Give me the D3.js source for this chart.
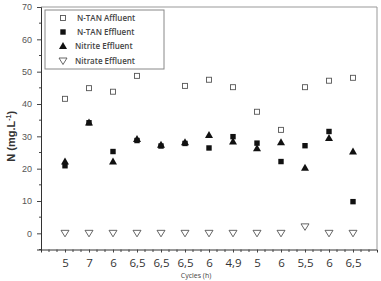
<!DOCTYPE html>
<html><head><meta charset="utf-8">
<script src="https://cdn.jsdelivr.net/npm/d3@7"></script>
<style>body{margin:0;background:#fff}svg{display:block}</style>
</head><body>
<svg id="c" width="381" height="281"></svg>
<script>
const cycles = ["5","7","6","6,5","6,5","6,5","6","4,9","5","6","5,5","6","6,5"];
const ntanAffluent = [41.6,44.9,43.8,48.7,null,45.6,47.5,45.2,37.6,32.0,45.2,47.2,48.1];
const ntanEffluent = [20.9,34.2,25.3,28.7,27.0,27.8,26.4,29.9,27.9,22.2,27.1,31.5,9.8];
const nitriteEffluent = [22.2,34.3,22.2,29.2,27.4,28.2,30.4,28.4,26.3,28.2,20.3,29.5,25.3];
const nitrateEffluent = [0,0,0,0,0,0,0,0,0,0,2.0,0,0];
const yTicks = [0,10,20,30,40,50,60,70];
const seriesNames = ["N-TAN Affluent","N-TAN Effluent","Nitrite Effluent","Nitrate Effluent"];

const svg = d3.select("#c");
const L=41, R=377, T=7, B=249.5;
const x = d3.scaleLinear().domain([-1, cycles.length]).range([L, R]);
const y = d3.scaleLinear().domain([-5, 70]).range([B, T]);

// frame
svg.append("path").attr("d",`M${L},${T}H${R}V${B}`).attr("fill","none").attr("stroke","#999").attr("stroke-width",1);

// y axis
const ya = svg.append("g").attr("transform",`translate(${L},0)`)
  .call(d3.axisLeft(y).tickValues(yTicks).tickSize(4).tickPadding(5).tickFormat(d3.format("d")));
ya.select(".domain").attr("stroke","#333");
ya.selectAll(".tick line").attr("stroke","#444");
ya.selectAll("text").attr("font-family","Arial, 'Liberation Sans', sans-serif").attr("font-size",9).attr("fill","#555");
const yMinor = d3.range(-5,70,10);
svg.append("g").selectAll("line").data(yMinor).join("line")
  .attr("x1",L-2).attr("x2",L).attr("y1",d=>y(d)).attr("y2",d=>y(d)).attr("stroke","#444");

// x axis
const xa = svg.append("g").attr("transform",`translate(0,${B})`)
  .call(d3.axisBottom(x).tickValues(d3.range(cycles.length)).tickSize(3).tickPadding(6).tickFormat(i=>cycles[i]));
xa.select(".domain").attr("stroke","#333");
xa.selectAll(".tick line").attr("stroke","#444");
xa.selectAll("text").attr("font-family","'Open Sans', Arial, sans-serif").attr("font-size",11.5).attr("fill","#333");
const xMinor = d3.range(-1, cycles.length, 1/3).filter(v=>Math.abs(v-Math.round(v))>0.1);
svg.append("g").selectAll("line").data(xMinor).join("line")
  .attr("x1",d=>x(d)).attr("x2",d=>x(d)).attr("y1",B).attr("y2",B+2.5).attr("stroke","#444");

// labels
svg.append("text").attr("transform",`translate(15,${(T+B)/2+8}) rotate(-90)`).attr("text-anchor","middle")
  .attr("font-family","Arial, sans-serif").attr("font-size",11).attr("font-weight","bold").attr("fill","#333")
  .html('N (mg.L<tspan dy="-4" font-size="7">-1</tspan><tspan dy="4">)</tspan>');
svg.append("text").attr("x",196).attr("y",278).attr("text-anchor","middle")
  .attr("font-family","'Open Sans', Arial, sans-serif").attr("font-size",7).attr("fill","#444").text("Cycles (h)");

// markers
const sym = {
  sqOpen: g=>g.append("rect").attr("x",-2.5).attr("y",-2.5).attr("width",5).attr("height",5).attr("fill","#fff").attr("stroke","#555").attr("stroke-width",0.9),
  sqFill: g=>g.append("rect").attr("x",-2.7).attr("y",-2.7).attr("width",5.4).attr("height",5.4).attr("fill","#111"),
  triUp: g=>g.append("path").attr("d","M0,-4L4,3L-4,3Z").attr("fill","#111"),
  triDown: g=>g.append("path").attr("d","M-4,-3L4,-3L0,3.5Z").attr("fill","#fff").attr("stroke","#555").attr("stroke-width",0.9)
};
function plot(data, kind){
  data.forEach((v,i)=>{ if(v==null) return;
    const g = svg.append("g").attr("transform",`translate(${x(i)},${y(v)})`); sym[kind](g); });
}
plot(ntanAffluent,"sqOpen");
plot(ntanEffluent,"sqFill");
plot(nitriteEffluent,"triUp");
plot(nitrateEffluent,"triDown");

// legend
const lg = svg.append("g");
lg.append("rect").attr("x",45).attr("y",10).attr("width",119).attr("height",59).attr("fill","#fff").attr("stroke","#888").attr("stroke-width",1);
const kinds = ["sqOpen","sqFill","triUp","triDown"];
const ly = [18,32,46,61];
seriesNames.forEach((n,k)=>{
  const g = lg.append("g").attr("transform",`translate(63,${ly[k]})`); sym[kinds[k]](g);
  lg.append("text").attr("x",k<2?77:75).attr("y",ly[k]+3).attr("font-family","'Open Sans', Arial, sans-serif")
    .attr("font-size",8).attr("font-weight","600").attr("fill","#444").text(n);
});
</script>
</body></html>
